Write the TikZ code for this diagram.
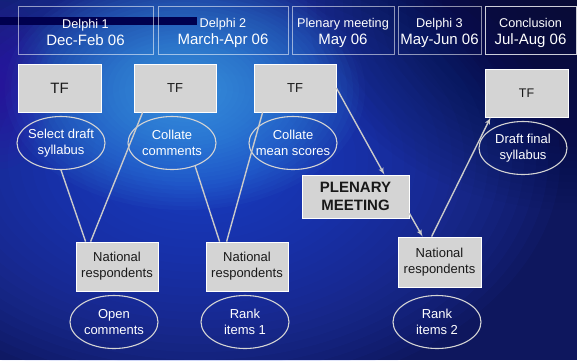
\documentclass[tikz,border=0pt]{standalone}
\usepackage{fontspec}
\setmainfont{Liberation Sans}
\usetikzlibrary{shapes, arrows}
\definecolor{boxgray}{HTML}{D4D4D4}
\definecolor{linegray}{HTML}{CACACA}
\definecolor{bgbase}{HTML}{0E175E}
\definecolor{bgblue}{HTML}{2A4CE0}
\definecolor{bgright}{HTML}{080B2C}
\definecolor{glow}{HTML}{50C8FF}
\definecolor{barnavy}{HTML}{00004E}
\tikzstyle{phase} = [rectangle, minimum height=48pt, inner sep=2pt, draw=white, draw opacity=0.55, text=white, align=center, font=\fontsize{15}{17}\selectfont]
\tikzstyle{tfbox} = [rectangle, minimum width=82pt, minimum height=48pt, draw=white, line width=0.8pt, fill=boxgray, text=black!90, align=center, font=\fontsize{13}{16}\selectfont]
\tikzstyle{task} = [ellipse, minimum width=88pt, minimum height=53pt, inner xsep=-12pt, inner ysep=0pt, draw=boxgray, line width=1.1pt, text=white, align=center, font=\fontsize{13}{16}\selectfont]
\tikzstyle{line} = [draw=linegray, line width=1.4pt, -latex']
\tikzstyle{link} = [draw=linegray, line width=1.4pt]
\newcommand{\phasetop}{\fontsize{12.7}{15}\selectfont\rule{0pt}{15pt}}

\begin{document}
\begin{tikzpicture}[x=1pt, y=-1pt, node distance=55pt]
            \useasboundingbox (0,0) rectangle (577,360);

            % Background
            \fill[bgbase] (0,0) rectangle (577,360);
            \foreach \i in {1,...,30}
                \fill[bgblue, opacity=0.05] (200,160) ellipse ({12*\i} and {8*\i});
            \foreach \i in {1,...,30}
                \fill[glow, opacity=0.035] (185,90) ellipse ({6*\i} and {4*\i});
            \foreach \i in {1,...,12}
                \fill[violet!60!blue, opacity=0.04] (0,85) ellipse ({4.5*\i} and {7*\i});
            \foreach \i in {1,...,30}
                \fill[bgright, opacity=0.03] (577,0) ellipse ({9*\i} and {7*\i});
            \fill[barnavy] (0,17) rectangle (197,25);

            % Nodes
            % Phases
            \node (ph_1) [phase, minimum width=135pt] at (85.5,30) {{\phasetop Delphi 1}\\Dec-Feb 06};
            \node (ph_2) [phase, minimum width=130pt] at (223,30) {{\phasetop Delphi 2}\\March-Apr 06};
            \node (ph_3) [phase, minimum width=102pt] at (343,30) {{\phasetop Plenary meeting}\\May 06};
            \node (ph_4) [phase, minimum width=83pt] at (439.5,30) {{\phasetop Delphi 3}\\May-Jun 06};
            \node (ph_5) [phase, minimum width=91pt, draw opacity=0.8] at (530.5,30) {{\phasetop Conclusion}\\Jul-Aug 06};

            % Top line
            \node (tf_1) [tfbox, minimum width=83pt, font=\fontsize{15}{18}\selectfont] at (59.5,88) {TF};
            \node (tf_2) [tfbox] at (175,88) {TF};
            \node (tf_3) [tfbox] at (295,88) {TF};
            \node (tf_4) [tfbox, minimum width=83pt, font=\fontsize{12.5}{15}\selectfont] at (526.5,93) {TF};
            \node (task_1) [task, below of=tf_1, xshift=1.5pt] {Select draft\\syllabus};
            \node (task_2) [task, below of=tf_2, xshift=-3pt] {Collate\\comments};
            \node (task_3) [task, below of=tf_3, xshift=-2pt] {Collate\\mean scores};
            \node (task_4) [task, below of=tf_4, xshift=-3.5pt] {Draft final\\syllabus};
            \node (pl) [tfbox, minimum width=107pt, minimum height=43pt, font=\bfseries\fontsize{15}{18}\selectfont] at (355.5,196.5) {PLENARY\\MEETING};

            % Bottom line
            \node (nr_1) [tfbox, minimum height=49pt] at (117,266.5) {National\\respondents};
            \node (nr_2) [tfbox, minimum height=49pt] at (247,266.5) {National\\respondents};
            \node (nr_3) [tfbox, minimum width=83pt, minimum height=50pt] at (439.5,262) {National\\respondents};
            \node (task_5) [task, below of=nr_1, xshift=-3pt, yshift=-0.5pt] {Open\\comments};
            \node (task_6) [task, below of=nr_2, xshift=-2pt, yshift=-0.5pt] {Rank\\items 1};
            \node (task_7) [task, below of=nr_3, xshift=-2.5pt, yshift=-5pt] {Rank\\items 2};

            % Draw lines
            \path [link] (task_1.south) -- ([xshift=10pt] nr_1.north west);
            \path [link] ([xshift=15pt] nr_1.north west) -- ([xshift=9pt] tf_2.south west);
            \path [link] (task_2.-45) -- ([xshift=14pt] nr_2.north west);
            \path [link] ([xshift=21pt] nr_2.north west) -- ([xshift=9pt] tf_3.south west);
            \path [line] (tf_3.east) -- ([xshift=-25pt] pl.north east);
            \path [line] ([yshift=5pt] pl.south east) -- ([xshift=25pt] nr_3.north west);
            \path [line] ([xshift=34pt] nr_3.north west) -- ([xshift=6pt] tf_4.south west);
        \end{tikzpicture}
\end{document}
